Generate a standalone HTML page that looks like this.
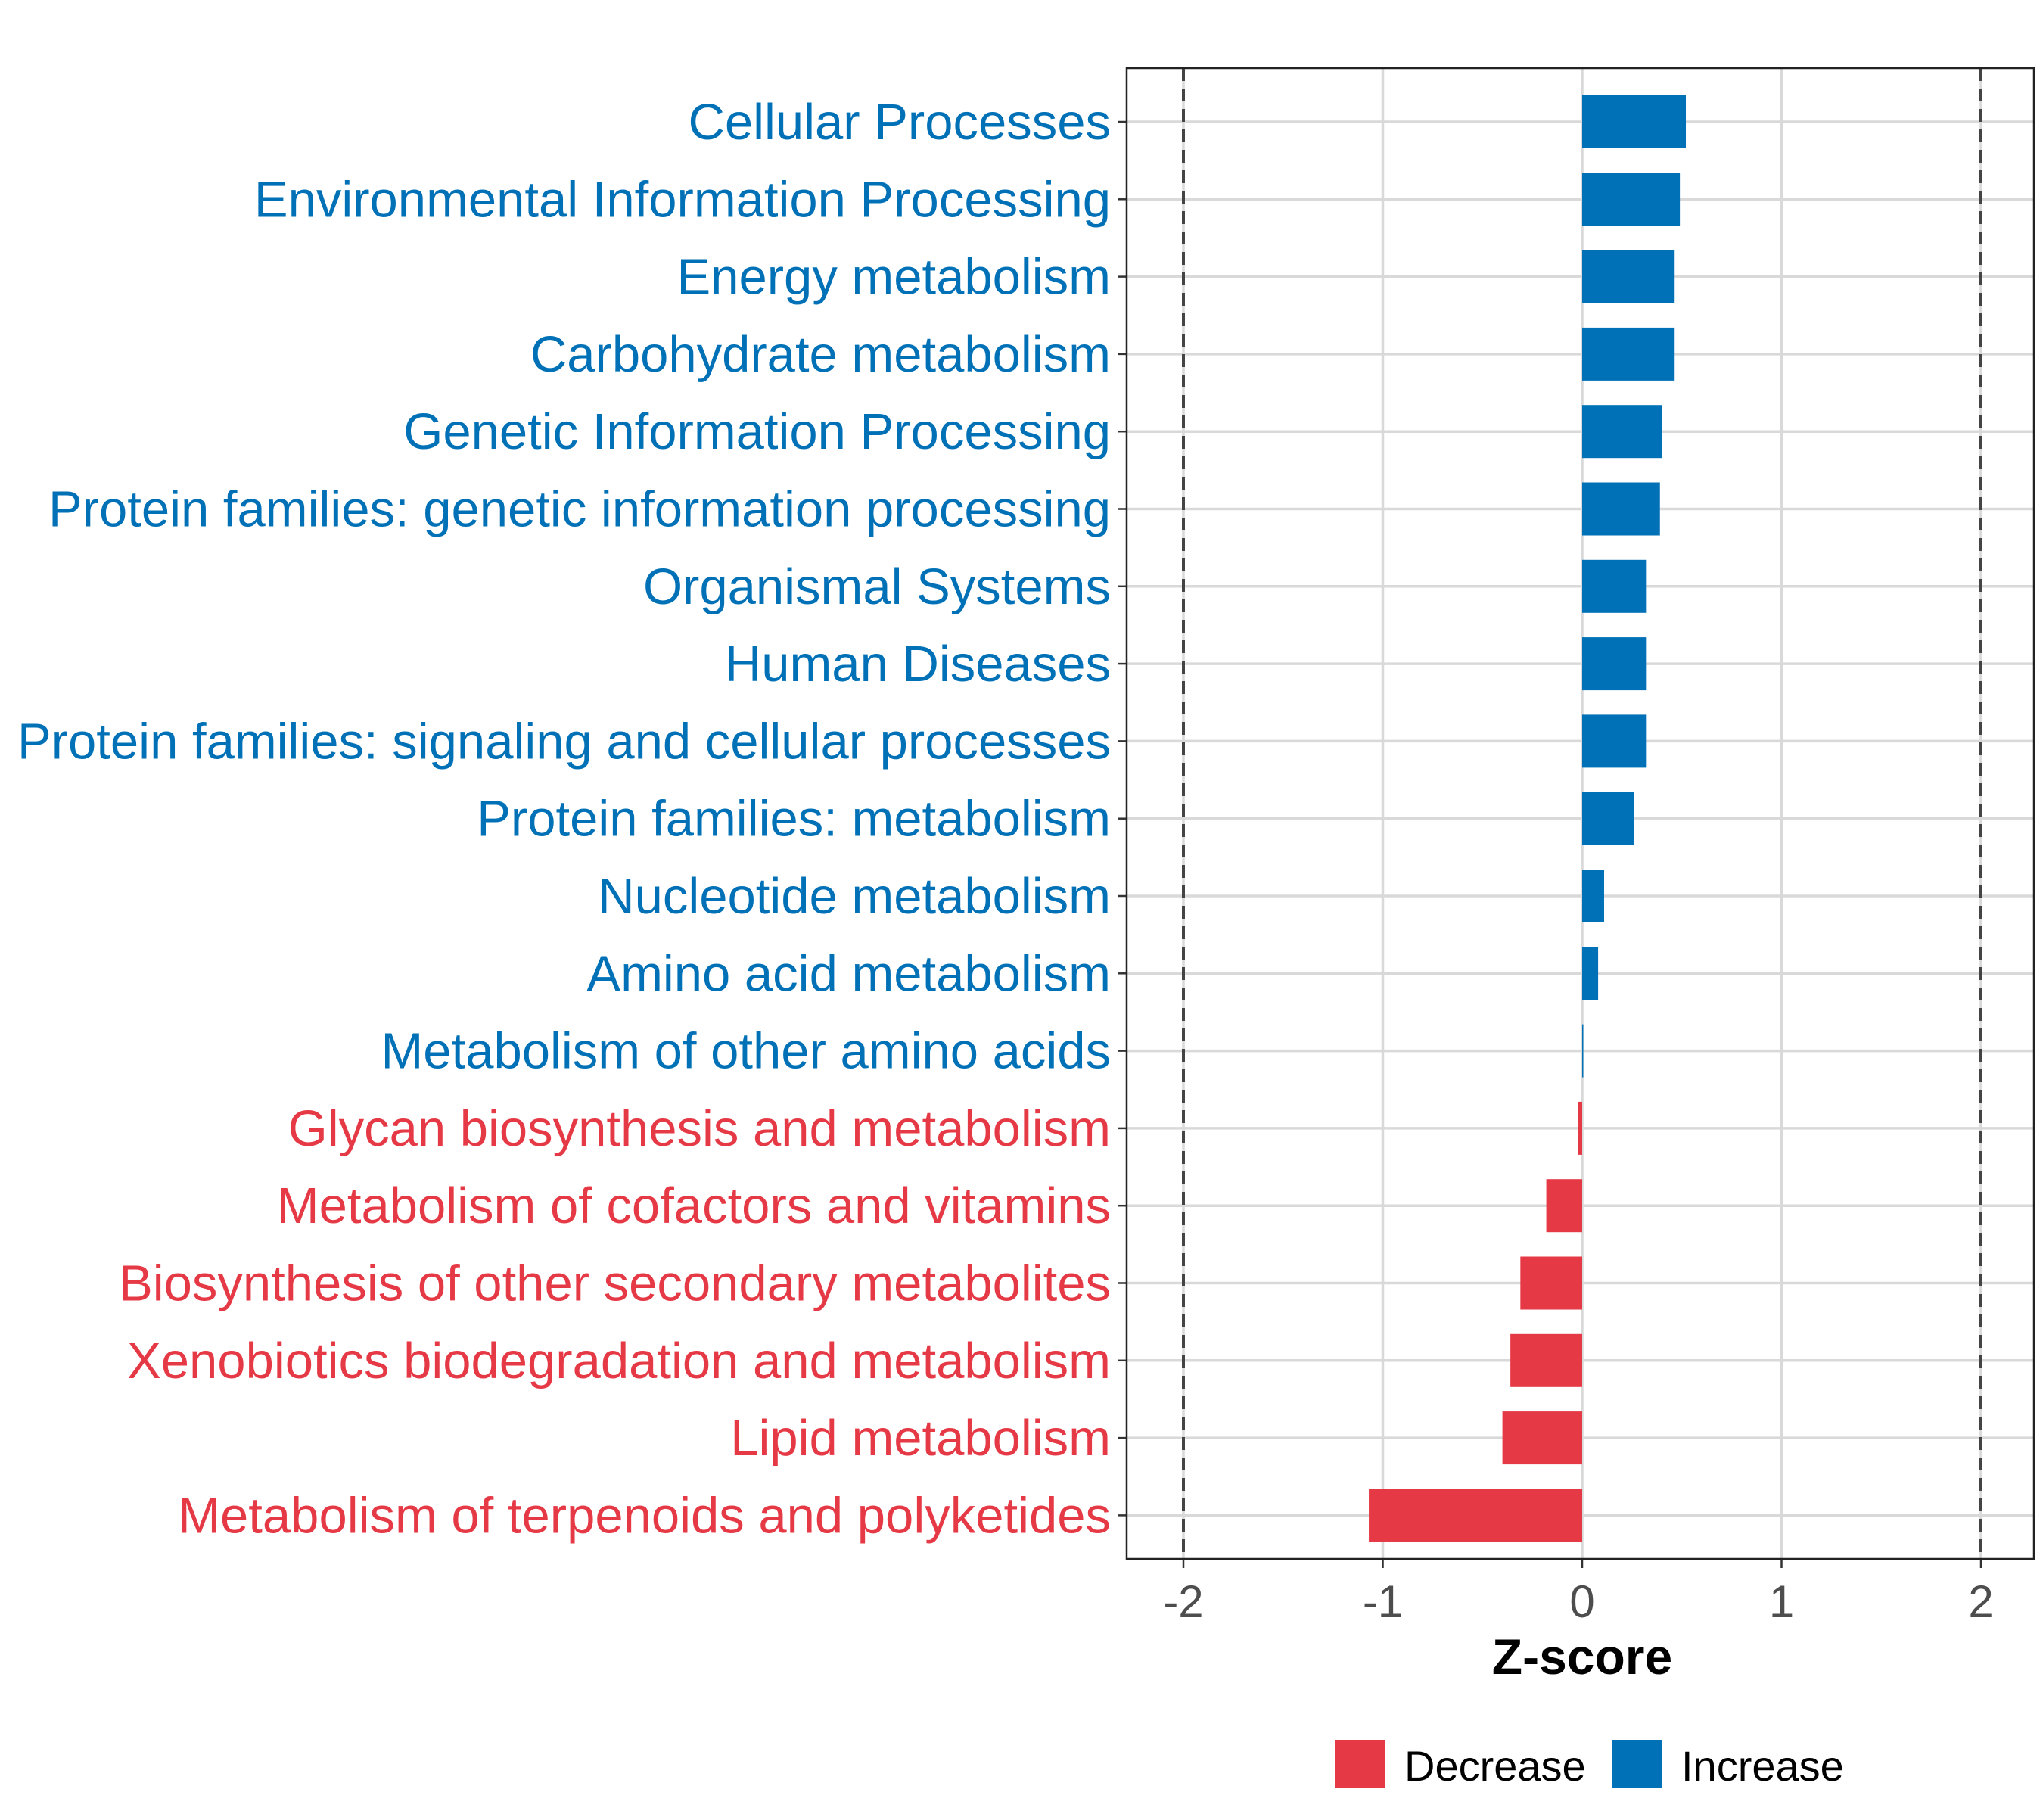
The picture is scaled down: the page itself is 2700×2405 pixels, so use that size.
<!DOCTYPE html>
<html><head><meta charset="utf-8"><style>
html,body{margin:0;padding:0;background:#fff;}
svg text{font-family:"Liberation Sans",sans-serif;}
</style></head><body>
<svg id="chart" width="2700" height="2400" viewBox="0 0 2700 2400" xmlns="http://www.w3.org/2000/svg">
<rect width="2700" height="2400" fill="#fff"/>
<g id="grid"></g><g id="bars"></g><g id="labels"></g><g id="ticks"></g>
<rect x="1489" y="90" width="1199" height="1970" fill="none" stroke="#222" stroke-width="2.5"/>
<text x="2091" y="2212" font-size="66" font-weight="bold" text-anchor="middle" fill="#000">Z-score</text>
<g>
<rect x="1764" y="2299" width="66" height="64" fill="#E63946"/>
<text x="1856" y="2353" font-size="56" fill="#000">Decrease</text>
<rect x="2131" y="2299" width="66" height="64" fill="#0071B6"/>
<text x="2222" y="2353" font-size="56" fill="#000">Increase</text>
</g>
</svg>
<script>
const categories=["Cellular Processes","Environmental Information Processing","Energy metabolism","Carbohydrate metabolism","Genetic Information Processing","Protein families: genetic information processing","Organismal Systems","Human Diseases","Protein families: signaling and cellular processes","Protein families: metabolism","Nucleotide metabolism","Amino acid metabolism","Metabolism of other amino acids","Glycan biosynthesis and metabolism","Metabolism of cofactors and vitamins","Biosynthesis of other secondary metabolites","Xenobiotics biodegradation and metabolism","Lipid metabolism","Metabolism of terpenoids and polyketides"];
const zscores=[0.52,0.49,0.46,0.46,0.40,0.39,0.32,0.32,0.32,0.26,0.11,0.08,0.005,-0.02,-0.18,-0.31,-0.36,-0.40,-1.07];
const xTicks=[-2,-1,0,1,2];
const xTickLabels=["-2","-1","0","1","2"];
const thresholds=[-2,2];
const NS="http://www.w3.org/2000/svg";
const x=v=>2091+v*263.5;
const y=i=>161+i*102.3;
function mk(t,a,p){const e=document.createElementNS(NS,t);for(const k in a)e.setAttribute(k,a[k]);p.appendChild(e);return e;}
const grid=document.getElementById('grid'),bars=document.getElementById('bars'),labels=document.getElementById('labels'),ticks=document.getElementById('ticks');
xTicks.forEach((v,i)=>{
 const l=mk('line',{x1:x(v),x2:x(v),y1:90,y2:2060,stroke:'#d9d9d9','stroke-width':3.5},grid);
 
 
 const tk=mk('line',{x1:x(v),x2:x(v),y1:2060,y2:2072,stroke:'#333','stroke-width':2.5},ticks);
 
 
 const t=mk('text',{x:x(v),y:2137,'font-size':60,'text-anchor':'middle',fill:'#4d4d4d'},ticks);
 t.textContent=xTickLabels[i];
 
 
});
categories.forEach((c,i)=>{
 const g=mk('line',{x1:1489,x2:2688,y1:y(i),y2:y(i),stroke:'#d9d9d9','stroke-width':3.5},grid);
 
 
 const v=zscores[i],col=v>=0?'#0071B6':'#E63946';
 const r=mk('rect',{x:Math.min(x(0),x(v)),y:y(i)-35,width:Math.max(Math.abs(x(v)-x(0)),1.5),height:70,fill:col},bars);
 
 
 const tk=mk('line',{x1:1477,x2:1489,y1:y(i),y2:y(i),stroke:'#333','stroke-width':2.5},ticks);
 
 
 const t=mk('text',{x:1468,y:y(i)+23,'font-size':67,'text-anchor':'end',fill:col},labels);
 t.textContent=c;
 
 
});
thresholds.forEach(v=>{
 const l=mk('line',{x1:x(v),x2:x(v),y1:90,y2:2060,stroke:'#444','stroke-width':4,'stroke-dasharray':'17 10'},bars);
 
 
});
</script>
</body></html>
